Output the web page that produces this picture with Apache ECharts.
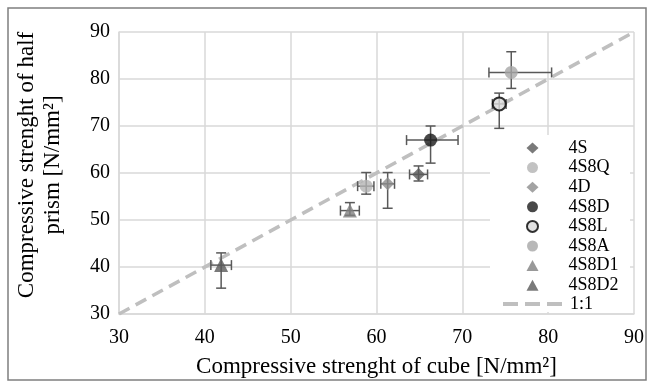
<!DOCTYPE html>
<html>
<head>
<meta charset="utf-8">
<script src="https://cdn.jsdelivr.net/npm/echarts@6/dist/echarts.min.js"></script>
<style>
  html, body { margin: 0; padding: 0; background: #fff; }
  #chart { width: 653px; height: 388px; }
</style>
</head>
<body>
<div id="chart"></div>
<script>
// mixes
const names = ['4S', '4S8Q', '4D', '4S8D', '4S8L', '4S8A', '4S8D1', '4S8D2'];
const cubeStrength = [64.9, 58.8, 61.3, 66.3, 74.3, 75.7, 56.9, 41.9];
const prismStrength = [59.7, 57.2, 57.7, 67.0, 74.7, 81.4, 52.0, 40.4];
// error bars (minus / plus)
const xErrMinus = [1.05, 1.0, 0.8, 2.8, 0.8, 2.6, 1.1, 1.2];
const xErrPlus = [1.05, 0.9, 0.8, 3.2, 0.8, 4.7, 1.1, 1.2];
const yErrMinus = [1.4, 1.7, 5.2, 4.9, 5.2, 3.4, 1.0, 4.9];
const yErrPlus = [1.8, 2.9, 2.4, 3.0, 2.3, 4.4, 1.7, 2.6];
const identityLine = [[30, 30], [90, 90]];
const axisMin = 30, axisMax = 90, axisStep = 10;

const symbols = ['diamond', 'circle', 'diamond', 'circle', 'circle', 'circle', 'triangle', 'triangle'];
const colors = ['#595959', '#b3b3b3', '#8c8c8c', '#1a1a1a', '#d9d9d9', '#a6a6a6', '#808080', '#595959'];

const font = 'Liberation Serif';
const gridColor = '#d9d9d9';

const errData = names.map((n, i) => [cubeStrength[i], prismStrength[i], xErrMinus[i], xErrPlus[i], yErrMinus[i], yErrPlus[i]]);

function renderErr(params, api) {
    const x = api.value(0), y = api.value(1);
    const c = api.coord([x, y]);
    const l = api.coord([x - api.value(2), y]);
    const r = api.coord([x + api.value(3), y]);
    const b = api.coord([x, y - api.value(4)]);
    const t = api.coord([x, y + api.value(5)]);
    const cap = 5;
    const style = { stroke: '#595959', lineWidth: 1.5 };
    const seg = (x1, y1, x2, y2) => ({ type: 'line', shape: { x1, y1, x2, y2 }, style });
    return {
        type: 'group',
        children: [
            seg(l[0], c[1], r[0], c[1]),
            seg(c[0], b[1], c[0], t[1]),
            seg(l[0], c[1] - cap, l[0], c[1] + cap),
            seg(r[0], c[1] - cap, r[0], c[1] + cap),
            seg(c[0] - cap, b[1], c[0] + cap, b[1]),
            seg(c[0] - cap, t[1], c[0] + cap, t[1])
        ]
    };
}

let series = [{
    name: '1:1',
    type: 'line',
    data: identityLine,
    symbol: 'none',
    z: 1,
    lineStyle: { color: '#bfbfbf', width: 3.5, type: [12, 7] },
    itemStyle: { color: '#bfbfbf' }
}, {
    type: 'custom',
    renderItem: renderErr,
    data: errData,
    encode: { x: 0, y: 1 },
    z: 2,
    silent: true
}];

names.forEach((n, i) => {
    series.push({
        name: n,
        type: 'scatter',
        symbol: symbols[i],
        symbolSize: symbols[i] === 'triangle' ? 14 : 13,
        data: [[cubeStrength[i], prismStrength[i]]],
        z: 3,
        itemStyle: n === '4S8L'
            ? { color: colors[i], borderColor: '#000', borderWidth: 2 }
            : { color: colors[i] }
    });
});

const legendText = { fontFamily: font, fontSize: 18, color: '#000', lineHeight: 16 };

let option = {
    backgroundColor: '#fff',
    animation: false,
    textStyle: { fontFamily: font },
    grid: { left: 119, right: 19, top: 32, bottom: 74 },
    xAxis: {
        type: 'value',
        min: axisMin, max: axisMax, interval: axisStep,
        name: 'Compressive strenght of cube [N/mm²]',
        nameLocation: 'middle',
        nameGap: 41,
        nameTextStyle: { fontFamily: font, fontSize: 23, color: '#000' },
        axisLine: { show: true, lineStyle: { color: gridColor, width: 1.5 } },
        axisTick: { show: false },
        axisLabel: { fontFamily: font, fontSize: 20, color: '#000', margin: 14 },
        splitLine: { show: true, lineStyle: { color: gridColor, width: 1.5 } }
    },
    yAxis: {
        type: 'value',
        min: axisMin, max: axisMax, interval: axisStep,
        name: 'Compressive strenght of half\nprism [N/mm²]',
        nameLocation: 'middle',
        nameGap: 53,
        nameTextStyle: { fontFamily: font, fontSize: 23, color: '#000', lineHeight: 26, padding: [0, 0, 0, 16] },
        axisLine: { show: true, lineStyle: { color: gridColor, width: 1.5 } },
        axisTick: { show: false },
        axisLabel: { fontFamily: font, fontSize: 20, color: '#000', margin: 9 },
        splitLine: { show: true, lineStyle: { color: gridColor, width: 1.5 } }
    },
    legend: [{
        orient: 'vertical',
        left: 490,
        top: 135,
        z: 6,
        padding: [4, 0, 0, 36],
        itemWidth: 12,
        itemHeight: 11,
        itemGap: 1.6,
        data: names,
        textStyle: Object.assign({ padding: [0, 0, 0, 25] }, legendText)
    }, {
        orient: 'vertical',
        left: 501,
        top: 295,
        z: 6,
        padding: 0,
        itemWidth: 62,
        itemHeight: 10,
        data: [{ name: '1:1', itemStyle: { opacity: 0 } }],
        lineStyle: { width: 4, type: [15, 7] },
        textStyle: legendText
    }],
    graphic: [{
        type: 'rect',
        shape: { x: 8, y: 8, width: 638, height: 372 },
        style: { fill: null, stroke: '#7f7f7f', lineWidth: 1.5 },
        silent: true
    }, {
        // white box behind the legend
        type: 'rect',
        z: 5,
        shape: { x: 490, y: 135, width: 140, height: 177 },
        style: { fill: '#fff' },
        silent: true
    }],
    series: series
};

const myChart = echarts.init(document.getElementById('chart'));
myChart.setOption(option);
</script>
</body>
</html>
